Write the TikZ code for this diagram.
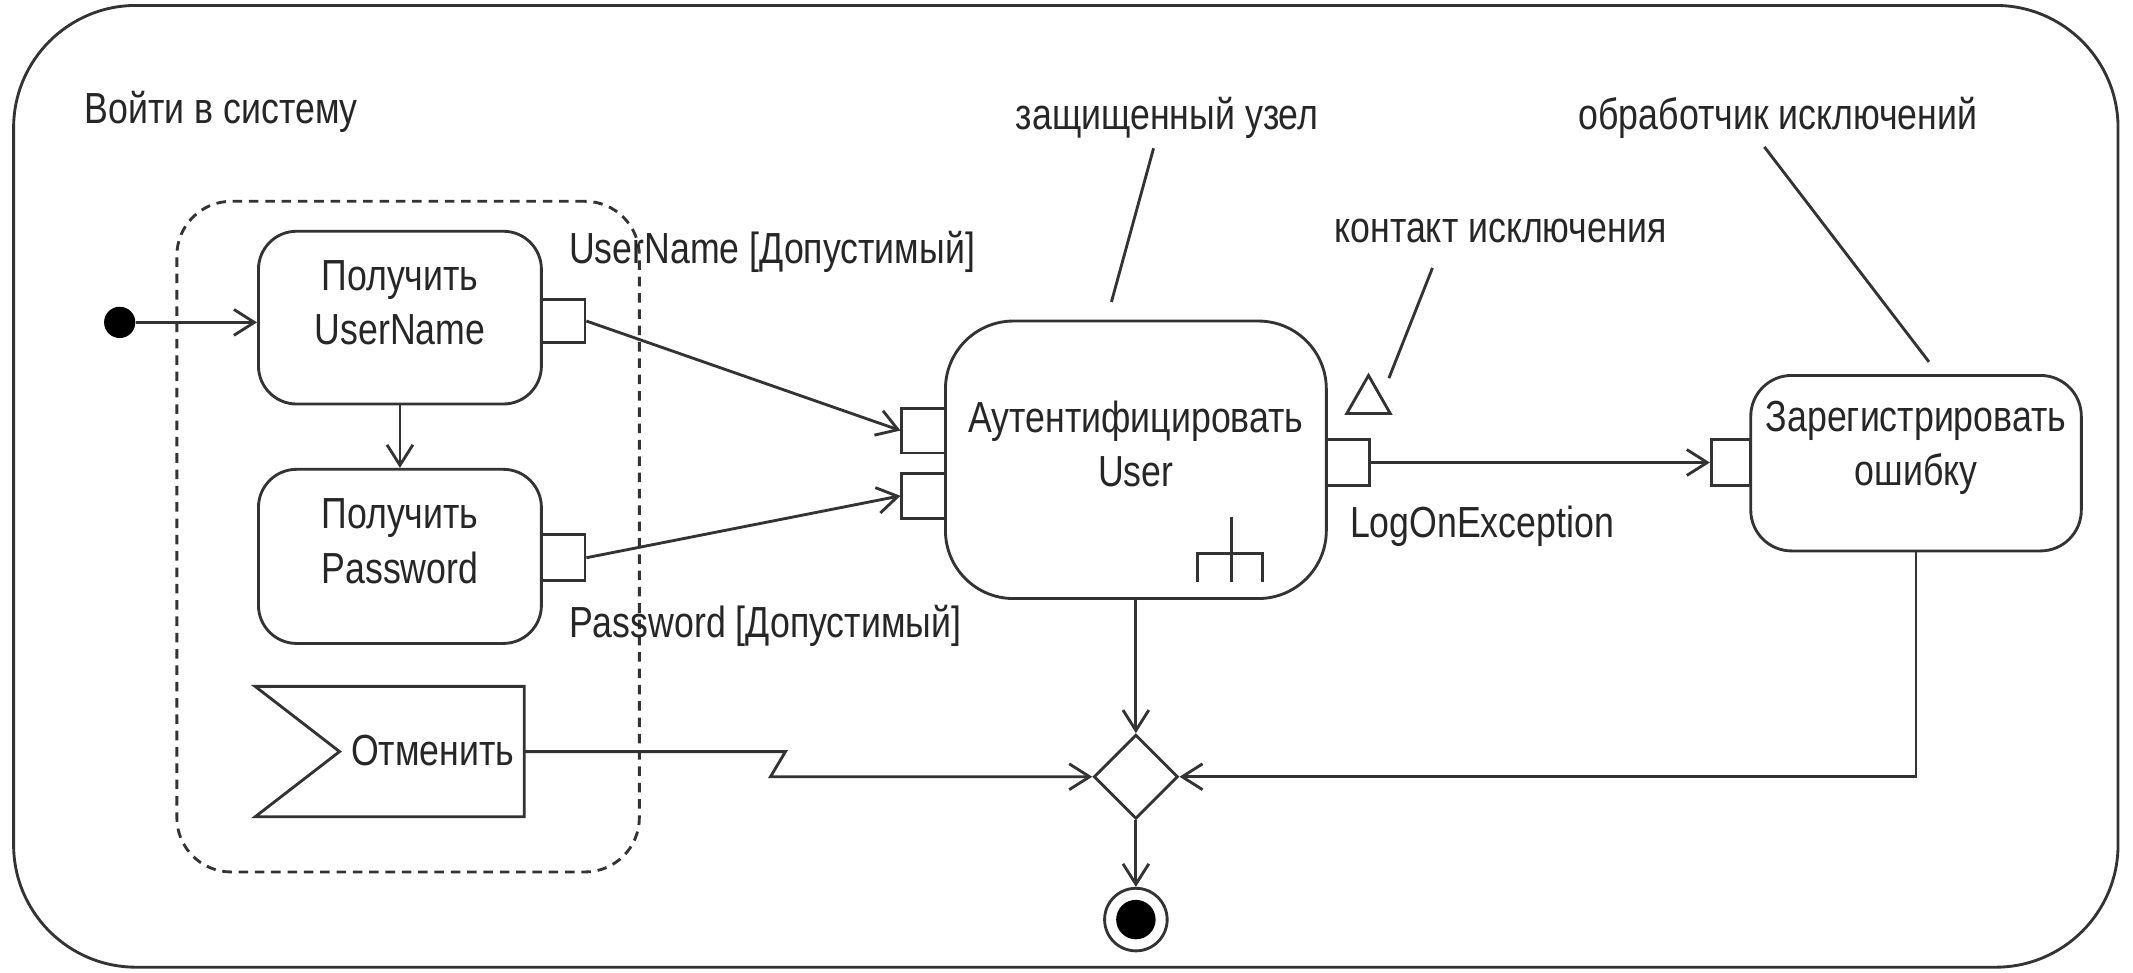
\documentclass[tikz,border=0pt]{standalone}
\usepackage{fontspec}
\setmainfont[FakeStretch=0.82]{Liberation Sans}
\usetikzlibrary{arrows.meta,shapes.geometric,fit,calc}
\begin{document}
\begin{tikzpicture}[x=0.5pt,y=-0.5pt,
  every node/.style={font=\fontsize{16}{20}\selectfont, text=black!85},
  line/.style={draw=black!80, line width=1.05pt},
  arr/.style={line, -{Straight Barb[length=7.5pt,width=9.5pt,line width=1.05pt]}},
  action/.style={line, inner sep=0pt, align=center},
  port/.style={line, inner sep=0pt, fill=white},
  lbl/.style={inner sep=0pt, anchor=west},
  notetext/.style={inner sep=0pt}
]
\useasboundingbox (0,0) rectangle (1568,715);

% frame and region
\node[line, inner sep=0pt, rounded corners=45pt, fit={(10,4) (1557,711)}] (frame) {};
\node[lbl] (title) at (62,82) {Войти в систему};
\node[line, dashed, dash pattern=on 3.5pt off 2.5pt, inner sep=0pt, rounded corners=20pt, fit={(130,148) (470,641)}] (region) {};

% initial node
\node[circle, fill=black, minimum size=11.5pt, inner sep=0pt] (ini) at (88,237) {};

% actions
\node[action, rounded corners=14pt, fit={(190,170) (398,297)}] (b1) {Получить\\UserName};
\node[port, fit={(398,220) (430,252)}] (p1) {};
\node[action, rounded corners=14pt, fit={(190,345) (398,473)}] (b2) {Получить\\Password};
\node[port, fit={(398,393) (430,427)}] (p2) {};

\node[action, rounded corners=25pt, fit={(695,236) (975,440)}] (auth) {Аутентифицировать\\User};
\node[port, fit={(663,300) (695,333)}] (pA) {};
\node[port, fit={(663,348) (695,381)}] (pB) {};
\node[port, fit={(975,323) (1007,357)}] (pE) {};

\node[action, rounded corners=15pt, fit={(1287,276) (1530,405)}] (err) {Зарегистрировать\\ошибку};
\node[port, fit={(1258,323) (1287,357)}] (pR) {};

% signal
\node[inner sep=0pt, fit={(188,505) (385,600)}] (sig) {};
\draw[line] (sig.north west) -- (sig.north east) -- (sig.south east) -- (sig.south west) -- ($(sig.west)+(62,0)$) -- cycle;
\node[notetext] (sigt) at (318,552) {Отменить};

% rake symbol
\draw[line] (905,380) -- (905,428) (880,428) -- (880,407) -- (928,407) -- (928,428);

% exception triangle
\draw[line] (990,304) -- (1022,304) -- (1006,276) -- cycle;

% merge and final
\node[line, diamond, aspect=1, minimum width=31pt, minimum height=31pt, inner sep=0pt] (dm) at (835,571) {};
\node[line, circle, minimum size=23pt, inner sep=0pt] (fin) at (835,676) {};
\node[circle, fill=black, minimum size=14.5pt, inner sep=0pt] (finc) at (835,676) {};

% labels
\node[lbl] (lun) at (418,185) {UserName [Допустимый]};
\node[lbl] (lpw) at (418,460) {Password [Допустимый]};
\node[lbl] (lex) at (992,387) {LogOnException};
\node[notetext] (n1) at (858,87) {защищенный узел};
\node[notetext] (n2) at (1103,170) {контакт исключения};
\node[notetext] (n3) at (1307,87) {обработчик исключений};

% note connectors
\coordinate (n1a) at (848,109); \coordinate (n1b) at (817,222);
\coordinate (n2a) at (1053,197); \coordinate (n2b) at (1021,278);
\coordinate (n3a) at (1297,108); \coordinate (n3b) at (1418,266);
\draw[line] (n1a) -- (n1b);
\draw[line] (n2a) -- (n2b);
\draw[line] (n3a) -- (n3b);

% flows
\draw[arr] (ini.east) -- (ini.east -| b1.west);
\draw[arr] (b1.south) -- (b2.north);
\draw[arr] (p1.east) -- (pA.west);
\draw[arr] (p2.east) -- (pB.west);
\draw[arr] (pE.east) -- (pR.west);
\draw[arr] (auth.south) -- (dm.north);
\coordinate (z1) at ($(sig.east)+(192,0)$);
\coordinate (z2) at ($(z1 |- dm.west)+(-11,0)$);
\draw[arr] (sig.east) -- (z1) -- (z2) -- (dm.west);
\draw[arr] (err.south) -- (err.south |- dm.east) -- (dm.east);
\draw[arr] (dm.south) -- (fin.north);
\end{tikzpicture}
\end{document}
